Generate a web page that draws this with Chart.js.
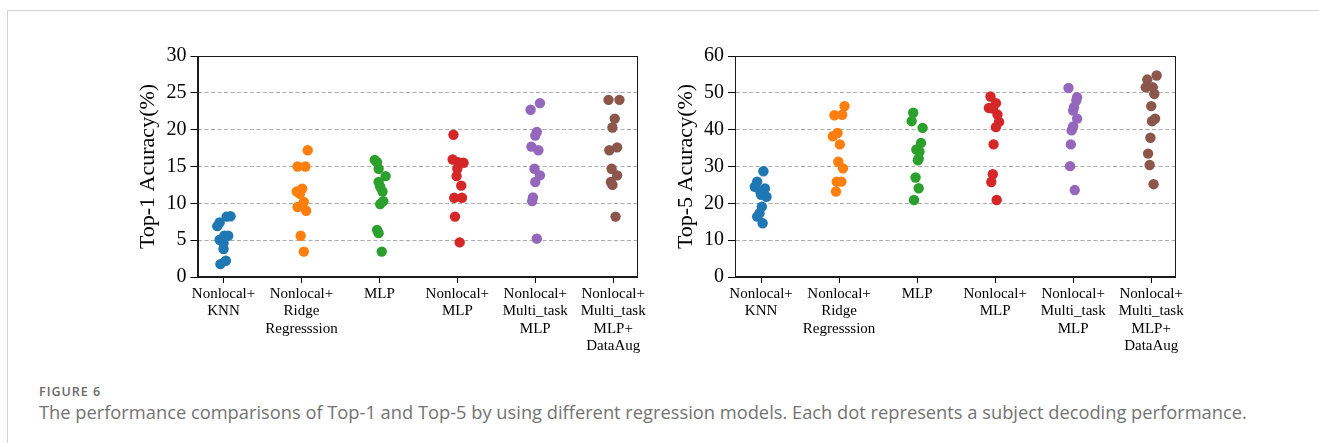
<!DOCTYPE html>
<html>
<head>
<meta charset="utf-8">
<script src="https://cdn.jsdelivr.net/npm/chart.js@4.4.1/dist/chart.umd.min.js"></script>
<style>
html,body{margin:0;padding:0;background:#fff;}
body{width:1319px;height:443px;position:relative;overflow:hidden;}
#frame{position:absolute;left:7px;top:10px;width:1320px;height:440px;border-top:1px solid #d3d3d3;border-left:1px solid #d3d3d3;}
.cw{position:absolute;top:40px;height:330px;}
#c1w{left:110px;width:538px;}
#c2w{left:648px;width:538px;}
#fig{position:absolute;left:39px;top:385px;font-family:'Open Sans';font-weight:600;font-size:12.5px;line-height:13px;color:#6a6a6a;letter-spacing:1px;white-space:nowrap;}
#cap{position:absolute;left:39px;top:401px;font-family:'Open Sans';font-weight:400;font-size:18.3px;line-height:22px;color:#737373;white-space:nowrap;}
</style>
</head>
<body>
<div id="frame"></div>
<div class="cw" id="c1w"><canvas id="c1"></canvas></div>
<div class="cw" id="c2w"><canvas id="c2"></canvas></div>
<div id="fig">FIGURE 6</div>
<div id="cap">The performance comparisons of Top-1 and Top-5 by using different regression models. Each dot represents a subject decoding performance.</div>
<script>
// ---- categories / tick labels ----
const categories = [
  ["Nonlocal+", "KNN"],
  ["Nonlocal+", "Ridge", "Regresssion"],
  ["MLP"],
  ["Nonlocal+", "MLP"],
  ["Nonlocal+", "Multi_task", "MLP"],
  ["Nonlocal+", "Multi_task", "MLP+", "DataAug"]
];
const colors = ["#1f77b4", "#ff7f0e", "#2ca02c", "#d62728", "#9467bd", "#8c564b"];
const top1Ticks = [0, 5, 10, 15, 20, 25, 30];
const top5Ticks = [0, 10, 20, 30, 40, 50, 60];

// ---- Top-1 values (%) and horizontal jitter (category units) ----
const top1_KNN      = [7.4, 6.9, 8.2, 8.25, 5.6, 5.6, 5.05, 4.6, 3.8, 2.2, 1.75];
const top1_KNN_dx   = [-0.05, -0.08, 0.04, 0.09, 0.01, 0.06, -0.05, 0.0, 0.0, 0.03, -0.04];
const top1_Ridge    = [17.2, 15.0, 15.0, 12.0, 11.6, 11.3, 10.2, 9.5, 9.0, 5.6, 3.45];
const top1_Ridge_dx = [0.08, -0.05, 0.05, 0.01, -0.06, -0.02, 0.03, -0.05, 0.06, -0.01, 0.03];
const top1_MLP      = [15.9, 15.6, 14.7, 13.7, 12.9, 12.25, 11.6, 10.3, 9.9, 6.4, 5.95, 3.45];
const top1_MLP_dx   = [-0.06, -0.03, -0.01, 0.08, -0.01, 0.01, 0.04, 0.05, 0.01, -0.03, -0.01, 0.03];
const top1_NLMLP    = [19.3, 15.95, 15.6, 15.5, 14.7, 13.7, 12.4, 10.75, 10.75, 8.2, 4.7];
const top1_NLMLP_dx = [-0.05, -0.06, 0.01, 0.08, 0.0, -0.01, 0.05, -0.04, 0.06, -0.03, 0.03];
const top1_Multi    = [22.7, 23.6, 19.7, 19.2, 17.7, 17.2, 14.7, 13.8, 12.9, 10.8, 10.3, 5.2];
const top1_Multi_dx = [-0.06, 0.06, 0.02, 0.0, -0.05, 0.04, -0.01, 0.06, 0.0, -0.03, -0.04, 0.02];
const top1_Aug      = [24.05, 24.05, 21.5, 20.3, 17.2, 17.6, 14.7, 13.8, 12.9, 12.5, 8.2];
const top1_Aug_dx   = [-0.06, 0.08, 0.02, -0.01, -0.05, 0.05, -0.02, 0.05, -0.03, -0.01, 0.03];

// ---- Top-5 values (%) and horizontal jitter ----
const top5_KNN      = [28.7, 25.9, 24.5, 24.05, 23.2, 22.3, 21.8, 19.1, 17.3, 16.4, 14.6];
const top5_KNN_dx   = [0.03, -0.05, -0.08, 0.05, -0.01, 0.0, 0.07, 0.01, -0.02, -0.05, 0.02];
const top5_Ridge    = [46.4, 43.9, 44.05, 39.1, 38.2, 36.0, 31.3, 29.5, 25.9, 25.9, 23.2];
const top5_Ridge_dx = [0.07, -0.06, 0.04, -0.02, -0.08, 0.01, -0.01, 0.05, -0.03, 0.03, -0.04];
const top5_MLP      = [44.6, 42.3, 40.5, 36.4, 34.6, 34.0, 32.2, 31.7, 27.0, 24.1, 20.9];
const top5_MLP_dx   = [-0.05, -0.07, 0.07, 0.05, -0.01, 0.03, 0.02, 0.01, -0.02, 0.02, -0.04];
const top5_NLMLP    = [49.0, 47.2, 45.9, 45.7, 44.1, 42.1, 40.7, 36.0, 27.9, 25.8, 20.9];
const top5_NLMLP_dx = [-0.06, 0.01, -0.08, -0.03, 0.03, 0.05, 0.01, -0.02, -0.03, -0.05, 0.02];
const top5_Multi    = [51.3, 48.8, 47.9, 46.1, 45.2, 43.0, 40.9, 39.8, 36.0, 30.1, 23.6];
const top5_Multi_dx = [-0.06, 0.05, 0.04, 0.01, 0.0, 0.05, 0.0, -0.02, -0.03, -0.04, 0.02];
const top5_Aug      = [54.7, 53.6, 51.5, 51.5, 49.7, 46.4, 43.0, 42.3, 37.8, 33.5, 30.4, 25.2];
const top5_Aug_dx   = [0.07, -0.05, -0.07, 0.02, 0.04, 0.0, 0.05, 0.01, -0.01, -0.04, -0.02, 0.03];

const top1Series = [top1_KNN, top1_Ridge, top1_MLP, top1_NLMLP, top1_Multi, top1_Aug];
const top1Jitter = [top1_KNN_dx, top1_Ridge_dx, top1_MLP_dx, top1_NLMLP_dx, top1_Multi_dx, top1_Aug_dx];
const top5Series = [top5_KNN, top5_Ridge, top5_MLP, top5_NLMLP, top5_Multi, top5_Aug];
const top5Jitter = [top5_KNN_dx, top5_Ridge_dx, top5_MLP_dx, top5_NLMLP_dx, top5_Multi_dx, top5_Aug_dx];

const serif = "'Liberation Serif', 'Times New Roman', serif";

const framePlugin = {
  id: 'frame',
  afterDatasetsDraw(chart) {
    const {ctx, chartArea: a} = chart;
    ctx.save();
    ctx.strokeStyle = '#1a1a1a';
    ctx.lineWidth = 1;
    const l = Math.round(a.left) + 0.5, r = Math.round(a.right) - 0.5;
    const t = Math.round(a.top) + 0.5, b = Math.round(a.bottom) - 0.5;
    ctx.strokeRect(l, t, r - l, b - t);
    ctx.restore();
  }
};

function makeChart(id, series, jitter, yTicks, yTitle) {
  const yMax = yTicks[yTicks.length - 1];
  const datasets = series.map((vals, i) => ({
    label: categories[i].join(' '),
    data: vals.map((v, k) => ({x: i + jitter[i][k], y: v})),
    backgroundColor: colors[i],
    borderColor: colors[i],
    borderWidth: 0,
    pointRadius: 5.2,
    pointHoverRadius: 5.2
  }));
  return new Chart(document.getElementById(id), {
    type: 'scatter',
    data: {datasets},
    plugins: [framePlugin],
    options: {
      responsive: true,
      maintainAspectRatio: false,
      animation: false,
      events: [],
      layout: {padding: {left: 0, right: 2, top: 15, bottom: 0}},
      plugins: {legend: {display: false}, tooltip: {enabled: false}},
      scales: {
        x: {
          type: 'linear',
          min: -0.334,
          max: 5.315,
          afterBuildTicks: s => { s.ticks = categories.map((c, i) => ({value: i})); },
          afterFit: s => { s.height = 93; },
          ticks: {
            autoSkip: false,
            maxRotation: 0,
            minRotation: 0,
            padding: 2,
            color: '#000',
            font: {family: serif, size: 15, lineHeight: 1.17},
            callback: v => categories[Math.round(v)]
          },
          grid: {drawOnChartArea: false, drawTicks: true, tickLength: 6, tickColor: '#000', tickWidth: 1},
          border: {display: true, color: '#1a1a1a', width: 1}
        },
        y: {
          type: 'linear',
          min: 0,
          max: yMax,
          afterBuildTicks: s => { s.ticks = yTicks.map(v => ({value: v})); },
          afterFit: s => { s.width = (id === 'c1') ? 87.5 : 87; },
          ticks: {
            padding: 4,
            color: '#000',
            font: {family: serif, size: 20},
            callback: v => String(v)
          },
          grid: {
            drawTicks: true,
            tickLength: 7,
            tickColor: '#000',
            tickWidth: 1,
            lineWidth: 1,
            color: c => (c.tick && (c.tick.value === 0 || c.tick.value === yMax)) ? 'rgba(0,0,0,0)' : '#adadad'
          },
          border: {display: true, color: '#1a1a1a', width: 1, dash: [4, 2.5]},
          title: {
            display: true,
            text: yTitle,
            color: '#000',
            font: {family: serif, size: 22, lineHeight: 1.2},
            padding: {top: 25, bottom: 0}
          }
        }
      }
    }
  });
}

makeChart('c1', top1Series, top1Jitter, top1Ticks, 'Top-1 Acuracy(%)');
makeChart('c2', top5Series, top5Jitter, top5Ticks, 'Top-5 Acuracy(%)');
</script>
</body>
</html>
